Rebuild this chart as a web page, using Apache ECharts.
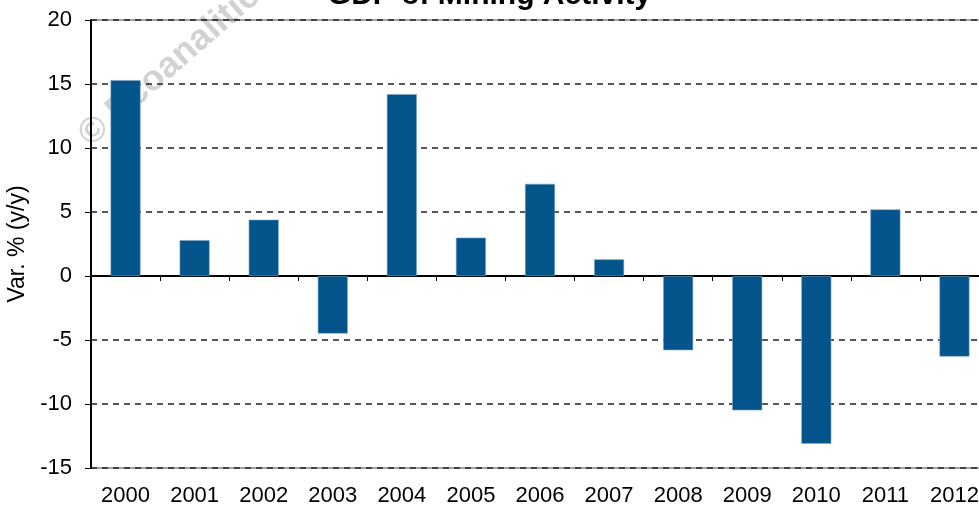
<!DOCTYPE html>
<html>
<head>
<meta charset="utf-8">
<script src="https://cdn.jsdelivr.net/npm/echarts@6/dist/echarts.min.js"></script>
<style>
    html, body { margin: 0; padding: 0; background: #fff; }
    #chart { width: 979px; height: 506px; }
</style>
</head>
<body>
<div id="chart"></div>
<script>
// data
var years = ["2000","2001","2002","2003","2004","2005","2006","2007","2008","2009","2010","2011","2012"];
var gdpMining = [15.3, 2.8, 4.4, -4.5, 14.2, 3.0, 7.2, 1.3, -5.8, -10.5, -13.1, 5.2, -6.3];
var yTicks = { min: -15, max: 20, step: 5 };

var chart = echarts.init(document.getElementById('chart'));

var fontFamily = "Liberation Sans, Arial, sans-serif";

var option = {
    animation: false,
    backgroundColor: '#fff',
    title: {
        text: 'GDP of Mining Activity',
        left: 'center',
        top: -24,
        textStyle: {
            fontFamily: fontFamily,
            fontWeight: 'bold',
            fontSize: 30,
            color: '#000'
        }
    },
    // watermark, behind the bars
    graphic: [
        {
            type: 'text',
            x: 84,
            y: 140,
            z: -10,
            rotation: 41 * Math.PI / 180,
            silent: true,
            style: {
                text: '© Ecoanalitica',
                fill: '#d2d2d2',
                font: 'bold 36px ' + fontFamily,
                textAlign: 'left',
                textVerticalAlign: 'middle'
            }
        }
    ],
    grid: {
        left: 91,
        top: 20,
        right: -10,
        bottom: 38,
        outerBoundsMode: 'none',
        containLabel: false,
        show: true,
        borderColor: '#444',
        borderWidth: 1,
        backgroundColor: 'transparent'
    },
    xAxis: [
        {
            // labels at the bottom
            type: 'category',
            data: years,
            position: 'bottom',
            axisLine: { show: false, onZero: false },
            axisTick: { show: false },
            axisLabel: {
                margin: 17,
                fontFamily: fontFamily,
                fontSize: 22,
                color: '#000'
            },
            splitLine: { show: false }
        },
        {
            // axis line and ticks on zero
            type: 'category',
            data: years,
            position: 'top',
            axisLine: { show: true, onZero: true, lineStyle: { color: '#000', width: 2 } },
            axisTick: { show: true, inside: true, length: 5, lineStyle: { color: '#000', width: 1 } },
            axisLabel: { show: false },
            splitLine: { show: false }
        }
    ],
    yAxis: {
        type: 'value',
        min: yTicks.min,
        max: yTicks.max,
        interval: yTicks.step,
        name: 'Var. % (y/y)',
        nameLocation: 'middle',
        nameGap: 51,
        nameTextStyle: {
            fontFamily: fontFamily,
            fontSize: 23,
            color: '#000'
        },
        axisLine: { show: true, lineStyle: { color: '#000', width: 2 } },
        axisTick: { show: true, length: 6, lineStyle: { color: '#000', width: 1 } },
        axisLabel: {
            margin: 19,
            fontFamily: fontFamily,
            fontSize: 22,
            color: '#000'
        },
        splitLine: {
            show: true,
            lineStyle: { color: '#222', width: 1.5, type: [6, 5] }
        }
    },
    series: [
        {
            name: 'GDP of Mining Activity',
            type: 'bar',
            xAxisIndex: 0,
            data: gdpMining,
            barWidth: 30,
            itemStyle: {
                color: '#02548A',
                borderColor: '#7fa6c6',
                borderWidth: 0.6
            }
        }
    ]
};

chart.setOption(option);
</script>
</body>
</html>
